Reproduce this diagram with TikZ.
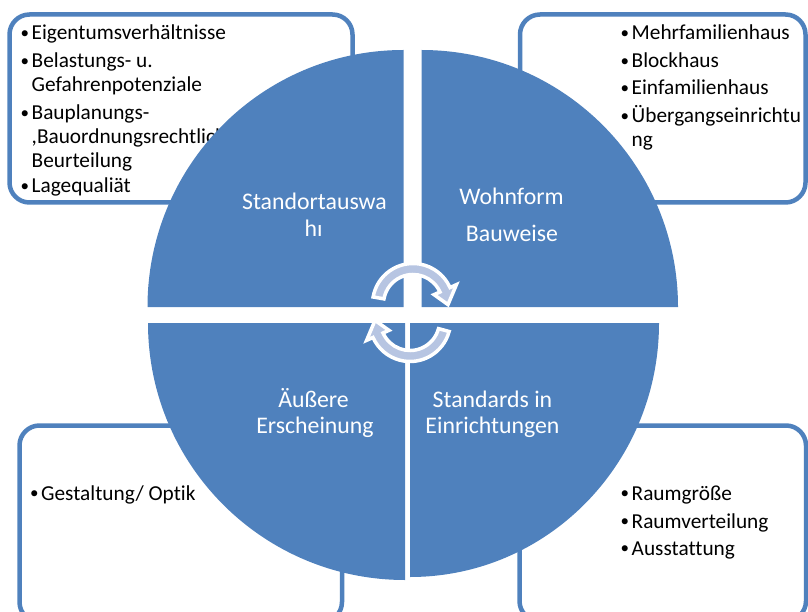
\documentclass[tikz,border=0pt]{standalone}
\usepackage{fontspec}
\setmainfont{Carlito}[Ligatures={TeX,NoCommon}]
\definecolor{qblue}{RGB}{79,129,189}
\definecolor{arrfill}{RGB}{183,197,226}
\newcommand\bl{\makebox[11pt][l]{\raisebox{1.2pt}{\scalebox{0.8}{•}}}}
\begin{document}
\begin{tikzpicture}[x=1pt,y=-1pt,
  box/.style={draw=qblue, line width=4.5pt, fill=white, rounded corners=20pt},
  quad/.style={fill=qblue},
  btext/.style={anchor=base west, inner sep=0pt, font=\fontsize{21.3}{24}\selectfont, text=black},
  qtext/.style={anchor=base, inner sep=0pt, font=\fontsize{23.8}{27}\selectfont, text=white},
  cyc/.style={fill=arrfill, draw=white, line width=3.5pt, line join=miter}
]
\useasboundingbox (0,0) rectangle (808,612);
\clip (0,0) rectangle (808,612);
% corner boxes
\draw[box] (9.5,14.5) rectangle (352.5,202.5);
\draw[box] (520,14.5) rectangle (805.5,202.5);
\draw[box] (19.5,425.5) rectangle (342,622);
\draw[box] (519.5,425.5) rectangle (806,621);
% box texts
\node[btext] (tl1) at (20.5,40) {\bl Eigentumsverhältnisse};
\node[btext] (tl2) at (20.5,68) {\bl\begin{tabular}[t]{@{}l@{}}Belastungs- u.\\Gefahrenpotenziale\end{tabular}};
\node[btext] (tl3) at (20.5,120) {\bl\begin{tabular}[t]{@{}l@{}}Bauplanungs-\\,Bauordnungsrechtliche\\Beurteilung\end{tabular}};
\node[btext] (tl4) at (20.5,193) {\bl Lagequaliät};
\node[btext] (tr1) at (620.5,40) {\bl Mehrfamilienhaus};
\node[btext] (tr2) at (620.5,68) {\bl Blockhaus};
\node[btext] (tr3) at (620.5,95) {\bl Einfamilienhaus};
\node[btext] (tr4) at (620.5,123) {\bl\begin{tabular}[t]{@{}l@{}}Übergangseinrichtu\\ng\end{tabular}};
\node[btext] (bl1) at (30,500) {\bl Gestaltung/ Optik};
\node[btext] (br1) at (620.5,500) {\bl Raumgröße};
\node[btext] (br2) at (620.5,528) {\bl Raumverteilung};
\node[btext] (br3) at (620.5,555) {\bl Ausstattung};
% quadrants
\fill[quad] (403.5,307) -- (147.5,307) arc[start angle=180,end angle=270,x radius=256,y radius=257] -- cycle;
\fill[quad] (421.5,307) -- (421.5,50) arc[start angle=270,end angle=360,x radius=256.5,y radius=257] -- cycle;
\fill[quad] (405,323) -- (148,323) arc[start angle=180,end angle=90,x radius=257,y radius=257] -- cycle;
\fill[quad] (410,323) -- (659,323) arc[start angle=0,end angle=90,x radius=249,y radius=254] -- cycle;
% quadrant texts
\node[qtext] (q1a) at (314.5,210) {Standortauswa};
\begin{scope}
\clip (290,215) -- (317.5,215) -- (317.5,224.5) -- (340,224.5) -- (340,250) -- (290,250) -- cycle;
\node[qtext] (q1b) at (313.5,236.7) {hl};
\end{scope}
\node[qtext] (q2a) at (511.5,205) {Wohnform};
\node[qtext] (q2b) at (512,241.5) {Bauweise};
\node[qtext] (q3a) at (313.5,407) {Äußere};
\node[qtext] (q3b) at (315,433) {Erscheinung};
\node[qtext] (q4a) at (492.5,407) {Standards in};
\node[qtext] (q4b) at (492.5,433) {Einrichtungen};
% cycle arrows
\begin{scope}[shift={(413,304)}, yscale=-1]
\filldraw[cyc] (170:40.5) arc[start angle=170,end angle=24,radius=40.5] -- (24:47.5) -- (-1:35) -- (24:23) -- (24:29.5) arc[start angle=24,end angle=170,radius=29.5] -- cycle;
\end{scope}
\begin{scope}[shift={(410,321)}, yscale=-1, rotate=180]
\filldraw[cyc] (165:40.5) arc[start angle=165,end angle=24,radius=40.5] -- (24:47.5) -- (-1:35) -- (24:23) -- (24:29.5) arc[start angle=24,end angle=165,radius=29.5] -- cycle;
\end{scope}
\end{tikzpicture}
\end{document}
